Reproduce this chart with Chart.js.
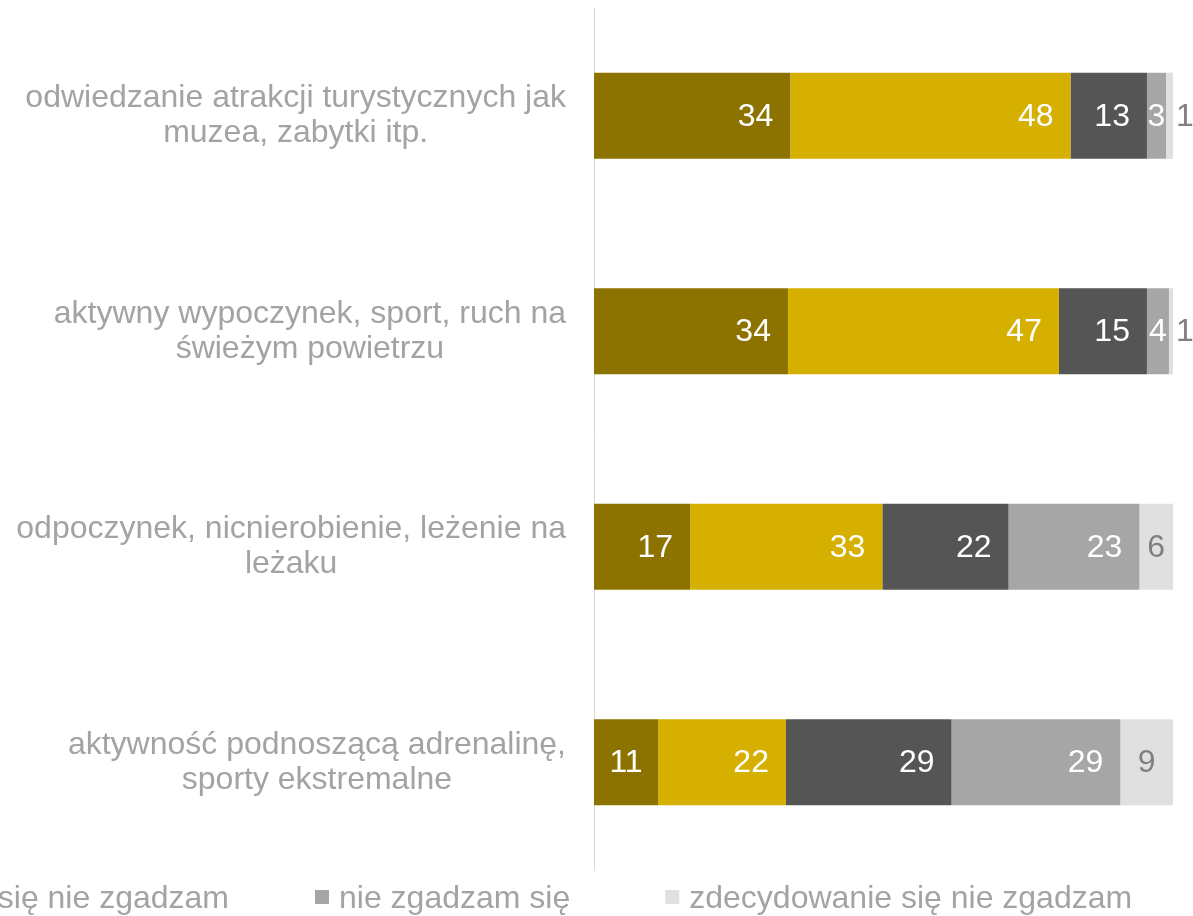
<!DOCTYPE html>
<html>
<head>
<meta charset="utf-8">
<script src="https://cdn.jsdelivr.net/npm/chart.js@4.4.1/dist/chart.umd.min.js"></script>
<style>
  html, body { margin: 0; padding: 0; background: #ffffff; overflow: hidden; }
  #c { position: absolute; left: 0; top: 0; }
</style>
</head>
<body>
<canvas id="c" width="1193" height="916"></canvas>
<script>
// ---- data ----
const categories = [
  ["odwiedzanie atrakcji turystycznych jak", "muzea, zabytki itp."],
  ["aktywny wypoczynek, sport, ruch na", "świeżym powietrzu"],
  ["odpoczynek, nicnierobienie, leżenie na", "leżaku"],
  ["aktywność podnoszącą adrenalinę,", "sporty ekstremalne"]
];
const seriesNames = [
  "zdecydowanie się zgadzam",
  "zgadzam się",
  "ani się zgadzam, ani się nie zgadzam",
  "nie zgadzam się",
  "zdecydowanie się nie zgadzam"
];
const zdecydowanieZgadzam    = [33.9, 33.5, 16.6, 11.05];
const zgadzam                = [48.4, 46.8, 33.2, 22.1];
const aniAni                 = [13.2, 15.2, 21.8, 28.6];
const nieZgadzam             = [3.3, 3.8, 22.6, 29.15];
const zdecydowanieNieZgadzam = [1.2, 0.7, 5.8, 9.1];
const seriesValues = [zdecydowanieZgadzam, zgadzam, aniAni, nieZgadzam, zdecydowanieNieZgadzam];
const seriesColors = ["#8C7300", "#D5B000", "#555555", "#A6A6A6", "#E0E0E0"];
const labelColors  = ["#FFFFFF", "#FFFFFF", "#FFFFFF", "#FFFFFF", "#808080"];

const FONT = '"Liberation Sans", Arial, sans-serif';
const TEXT_GRAY = "#A3A3A3";

// ---- plugins ----
const categoryLabels = {
  id: "categoryLabels",
  afterDraw(chart) {
    const ctx = chart.ctx;
    const y = chart.scales.y;
    ctx.save();
    ctx.font = "32px " + FONT;
    ctx.fillStyle = TEXT_GRAY;
    ctx.textBaseline = "middle";
    ctx.textAlign = "center";
    const rightEdge = y.right - 28;
    const lh = 35;
    chart.data.labels.forEach((lines, i) => {
      const cy = y.getPixelForTick(i);
      const widths = lines.map(l => ctx.measureText(l).width);
      const blockW = Math.max(...widths);
      const cx = rightEdge - blockW / 2;
      const y0 = cy - (lines.length - 1) * lh / 2;
      lines.forEach((l, k) => ctx.fillText(l, cx, y0 + k * lh));
    });
    ctx.restore();
  }
};

const valueLabels = {
  id: "valueLabels",
  afterDatasetsDraw(chart) {
    const ctx = chart.ctx;
    ctx.save();
    ctx.font = "32px " + FONT;
    ctx.textBaseline = "middle";
    chart.data.datasets.forEach((ds, di) => {
      const meta = chart.getDatasetMeta(di);
      meta.data.forEach((el, i) => {
        const v = ds.data[i];
        const txt = String(Math.round(v));
        const w = ctx.measureText(txt).width;
        const start = el.base, end = el.x;
        const segW = end - start;
        ctx.fillStyle = labelColors[di];
        const cy = el.y + 1;
        if (di < 4) {
          if (w + 34 <= segW) {
            ctx.textAlign = "right";
            ctx.fillText(txt, end - 17, cy);
          } else {
            ctx.textAlign = "center";
            ctx.fillText(txt, (start + end) / 2, cy);
          }
        } else {
          if (w <= segW) {
            ctx.textAlign = "center";
            ctx.fillText(txt, (start + end) / 2, cy);
          } else {
            ctx.textAlign = "left";
            ctx.fillText(txt, end + 3, cy);
          }
        }
      });
    });
    ctx.restore();
  }
};

const bottomLegend = {
  id: "bottomLegend",
  afterDraw(chart) {
    const ctx = chart.ctx;
    ctx.save();
    ctx.font = "32px " + FONT;
    ctx.textBaseline = "middle";
    ctx.textAlign = "left";
    const cy = 899;
    const box = 14, boxGap = 10, gapAfter = 95, gapBefore = 86;
    const items = chart.data.datasets.map(d => ({ text: d.label, color: d.backgroundColor, w: ctx.measureText(d.label).width }));
    // anchor: box of 4th item
    const xs = [];
    xs[3] = 315;
    for (let k = 4; k < items.length; k++) xs[k] = xs[k - 1] + box + boxGap + items[k - 1].w + gapAfter;
    for (let k = 2; k >= 0; k--) xs[k] = xs[k + 1] - gapBefore - items[k].w - boxGap - box;
    items.forEach((it, k) => {
      ctx.fillStyle = it.color;
      ctx.fillRect(xs[k], cy - box / 2 - 2, box, box);
      ctx.fillStyle = TEXT_GRAY;
      ctx.fillText(it.text, xs[k] + box + boxGap, cy);
    });
    ctx.restore();
  }
};

// ---- chart ----
new Chart(document.getElementById("c"), {
  type: "bar",
  data: {
    labels: categories,
    datasets: seriesNames.map((name, k) => ({
      label: name,
      data: seriesValues[k],
      backgroundColor: seriesColors[k],
      borderWidth: 0,
      barPercentage: 0.4,
      categoryPercentage: 1.0
    }))
  },
  options: {
    indexAxis: "y",
    responsive: false,
    animation: false,
    devicePixelRatio: 1,
    layout: { padding: { top: 8, right: 20, bottom: 46, left: 0 } },
    scales: {
      x: { stacked: true, min: 0, max: 100, display: false },
      y: {
        stacked: true,
        grid: { display: false },
        border: { display: true, color: "#D9D9D9", width: 1 },
        ticks: { display: false },
        afterFit(scale) { scale.width = 594; }
      }
    },
    plugins: {
      legend: { display: false },
      tooltip: { enabled: false }
    }
  },
  plugins: [categoryLabels, valueLabels, bottomLegend]
});
</script>
</body>
</html>
